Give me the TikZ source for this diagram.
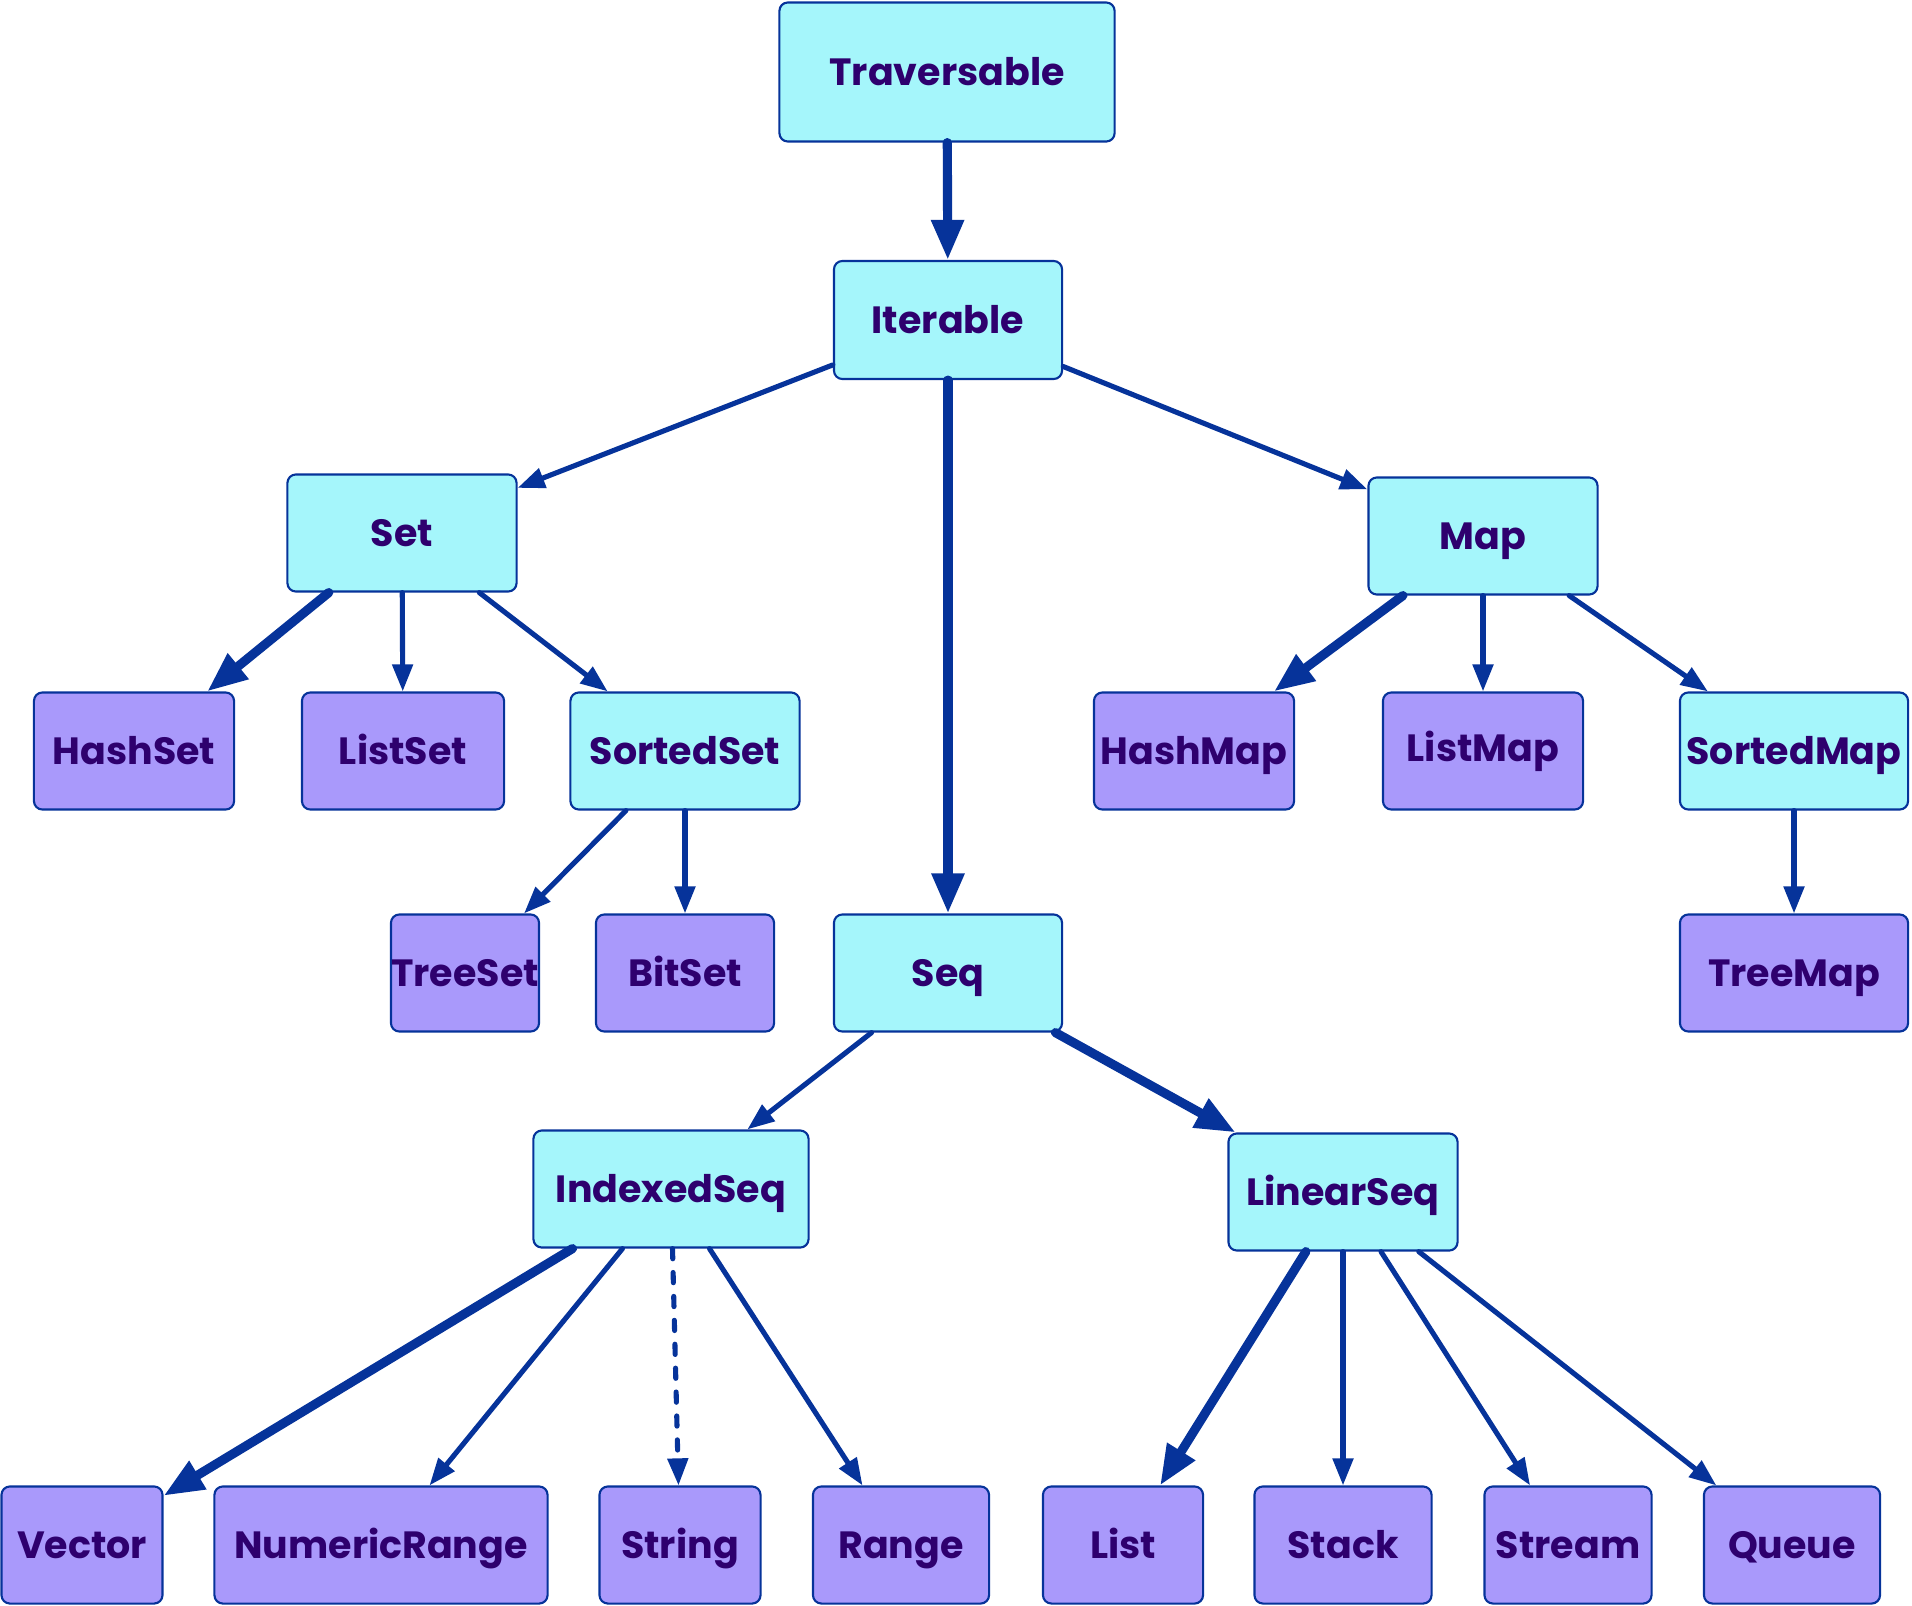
\documentclass[tikz,border=0pt]{standalone}
\usepackage{fontspec}
\setmainfont{Poppins}
\usepackage{tikz}
\usetikzlibrary{arrows.meta,positioning}
\definecolor{traitcyan}{HTML}{A5F6FB}
\definecolor{implviolet}{HTML}{A999FB}
\definecolor{edgeblue}{HTML}{06339A}
\definecolor{labelpurple}{HTML}{2E006E}
\tikzset{
  box/.style={draw=edgeblue,line width=.6pt,rounded corners=2.4pt,minimum height=1.17cm,inner sep=0pt,text height=7.6pt,text depth=0pt,text=labelpurple,font=\bfseries\fontsize{10.8}{12}\selectfont},
  trait/.style={box,fill=traitcyan},
  impl/.style={box,fill=implviolet},
  flow/.style={draw=edgeblue,line width=1.45pt,line cap=round,-{Triangle[length=7.7pt,width=5.7pt]}},
  mainflow/.style={draw=edgeblue,line width=2.6pt,line cap=round,-{Triangle[length=11.4pt,width=8.8pt]}},
  viewflow/.style={flow,dash pattern=on 2.9pt off 3.9pt},
}

\begin{document}
\begin{tikzpicture}[x=0.01cm,y=-0.01cm]
    \useasboundingbox (0,0) rectangle (1912,1606);
    % traits
    \node[trait,minimum width=3.35cm,minimum height=1.39cm] (trav) at (947,72) {Traversable};
    \node[trait,minimum width=2.28cm,minimum height=1.18cm] (iter) at (948,320) {Iterable};
    \node[trait,minimum width=2.29cm] (set) at (402,533) {Set};
    \node[trait,minimum width=2.29cm] (map) at (1483,536) {Map};
    \node[trait,minimum width=2.29cm] (sortedset) at (685,751) {SortedSet};
    \node[trait,minimum width=2.28cm] (sortedmap) at (1794,751) {SortedMap};
    \node[trait,minimum width=2.28cm] (seq) at (948,973) {Seq};
    \node[trait,minimum width=2.75cm] (indexedseq) at (671,1189) {IndexedSeq};
    \node[trait,minimum width=2.29cm] (linearseq) at (1343,1192) {LinearSeq};
    % classes
    \node[impl,minimum width=2.00cm] (hashset) at (134,751) {HashSet};
    \node[impl,minimum width=2.02cm] (listset) at (403,751) {ListSet};
    \node[impl,minimum width=2.00cm] (hashmap) at (1194,751) {HashMap};
    \node[impl,minimum width=2.00cm,text depth=1.5pt] (listmap) at (1483,751) {ListMap};
    \node[impl,minimum width=1.48cm] (treeset) at (465,973) {TreeSet};
    \node[impl,minimum width=1.78cm] (bitset) at (685,973) {BitSet};
    \node[impl,minimum width=2.28cm] (treemap) at (1794,973) {TreeMap};
    \node[impl,minimum width=1.61cm] (vector) at (82,1545) {Vector};
    \node[impl,minimum width=3.33cm] (numrange) at (381,1545) {NumericRange};
    \node[impl,minimum width=1.61cm] (string) at (680,1545) {String};
    \node[impl,minimum width=1.76cm] (range) at (901,1545) {Range};
    \node[impl,minimum width=1.60cm] (list) at (1123,1545) {List};
    \node[impl,minimum width=1.77cm] (stack) at (1343,1545) {Stack};
    \node[impl,minimum width=1.67cm] (stream) at (1568,1545) {Stream};
    \node[impl,minimum width=1.76cm] (queue) at (1792,1545) {Queue};
    % inheritance
    \draw[mainflow] (trav)--(iter);
    \draw[flow] (iter)--(set);\draw[mainflow] (iter)--(seq);\draw[flow] (iter)--(map);
    \draw[mainflow] (set)--(hashset);\draw[flow] (set)--(listset);\draw[flow] (set)--(sortedset);
    \draw[flow] (sortedset)--(treeset);\draw[flow] (sortedset)--(bitset);
    \draw[mainflow] (map)--(hashmap);\draw[flow] (map)--(listmap);\draw[flow] (map)--(sortedmap);
    \draw[flow] (sortedmap)--(treemap);
    \draw[flow] (seq)--(indexedseq);\draw[mainflow] (seq)--(linearseq);
    \draw[mainflow] (indexedseq)--(vector);\draw[flow] (indexedseq)--(numrange);
    \draw[viewflow] (indexedseq)--(string);\draw[flow] (indexedseq)--(range);
    \draw[mainflow] (linearseq)--(list);\draw[flow] (linearseq)--(stack);
    \draw[flow] (linearseq)--(stream);\draw[flow] (linearseq)--(queue);
  \end{tikzpicture}
\end{document}
